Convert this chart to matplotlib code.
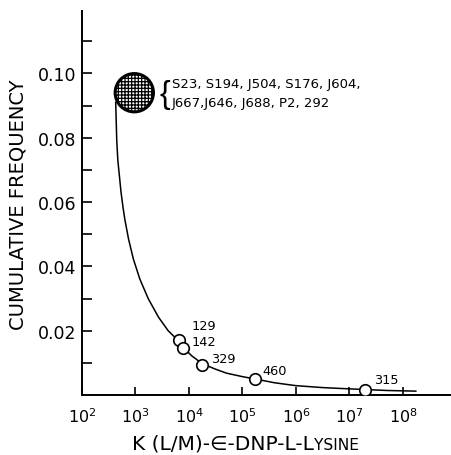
import numpy as np
import matplotlib
matplotlib.use("Agg")
import matplotlib.pyplot as plt

# fitted curve (log10 K, cumulative frequency)
curve_logk = [2.63, 2.64, 2.65, 2.67, 2.70, 2.73, 2.77, 2.80, 2.87, 2.96, 3.08,
              3.24, 3.43, 3.61, 3.80, 3.88, 4.05, 4.25, 4.50, 4.70, 5.00, 5.23,
              5.60, 6.00, 6.50, 7.00, 7.30, 7.70, 8.24]
curve_freq = [0.091, 0.085, 0.079, 0.073, 0.068, 0.063, 0.058, 0.0547, 0.0485,
              0.0423, 0.0361, 0.0299, 0.0242, 0.0200, 0.0169, 0.0150, 0.0122,
              0.0097, 0.0080, 0.0068, 0.0057, 0.0050, 0.0038, 0.0029, 0.0023,
              0.0019, 0.0017, 0.0014, 0.0012]

# individual antibodies
pt_k = [6.6e3, 7.6e3, 1.78e4, 1.7e5, 1.95e7]
pt_freq = [0.0170, 0.0145, 0.0094, 0.0050, 0.0017]
pt_labels = ["129", "142", "329", "460", "315"]
pt_offsets = [(12, 15), (9, 7), (9, 6), (8, 8), (9, 10)]

# cluster of low-affinity proteins
cluster_k = 9.5e2
cluster_freq = 0.094
cluster_names = ["S23, S194, J504, S176, J604,", "J667,J646, J688, P2, 292"]

plt.rcParams['hatch.linewidth'] = 0.9
fig = plt.figure(figsize=(4.52, 4.56), dpi=100)
ax = fig.add_axes([0.1814, 0.1316, 0.8186, 0.842])

ax.plot(10 ** np.array(curve_logk), curve_freq, color='black', lw=1.1, zorder=2)
ax.plot(pt_k, pt_freq, 'o', ms=8.3, mfc='white', mec='black', mew=1.2, zorder=3)
ax.scatter([cluster_k], [cluster_freq], s=760, facecolor='white',
           edgecolor='black', linewidth=2.2, hatch='+++++', zorder=4)

for k, f, lab, off in zip(pt_k, pt_freq, pt_labels, pt_offsets):
    ax.annotate(lab, (k, f), xytext=off, textcoords='offset pixels',
                fontsize=9.3, va='center', ha='left')

fig.text(0.364, 0.792, "{", fontsize=23, va='center', ha='center',
         family='Liberation Sans')
fig.text(0.38, 0.8136, cluster_names[0], fontsize=9.5, va='center', ha='left')
fig.text(0.38, 0.7735, cluster_names[1], fontsize=9.5, va='center', ha='left')

ax.set_xscale('log')
ax.set_xlim(1e2, 10 ** 8.916)
ax.set_ylim(0, 0.1194)
ax.set_xticks([10 ** e for e in range(2, 9)])
ax.set_xticklabels([r'$10^{%d}$' % e for e in range(2, 9)])
ax.xaxis.set_minor_locator(matplotlib.ticker.NullLocator())
ax.set_yticks(np.arange(0.01, 0.115, 0.01))
ax.set_yticklabels(['' if i % 2 == 0 else '%.2f' % ((i + 1) / 100) for i in range(11)])

ax.tick_params(axis='y', direction='in', length=7, width=1.2, labelsize=12.5, pad=4)
ax.tick_params(axis='x', direction='in', length=6, width=1.2, labelsize=11.5, pad=8)
for s in ['top', 'right']:
    ax.spines[s].set_visible(False)
for s in ['left', 'bottom']:
    ax.spines[s].set_linewidth(1.4)

fig.text(0.04, 0.55, "CUMULATIVE FREQUENCY", fontsize=14, rotation=90,
         ha='center', va='center')

t1 = fig.text(0.292, 0.014, u"K (L/M)-\u2208-DNP-L-L", fontsize=14.5,
              ha='left', va='baseline')
fig.canvas.draw()
bb = t1.get_window_extent(fig.canvas.get_renderer())
fig.text(bb.x1 / fig.bbox.width, 0.014, "YSINE", fontsize=11.2,
         ha='left', va='baseline')

fig.savefig("out.png", dpi=100)
